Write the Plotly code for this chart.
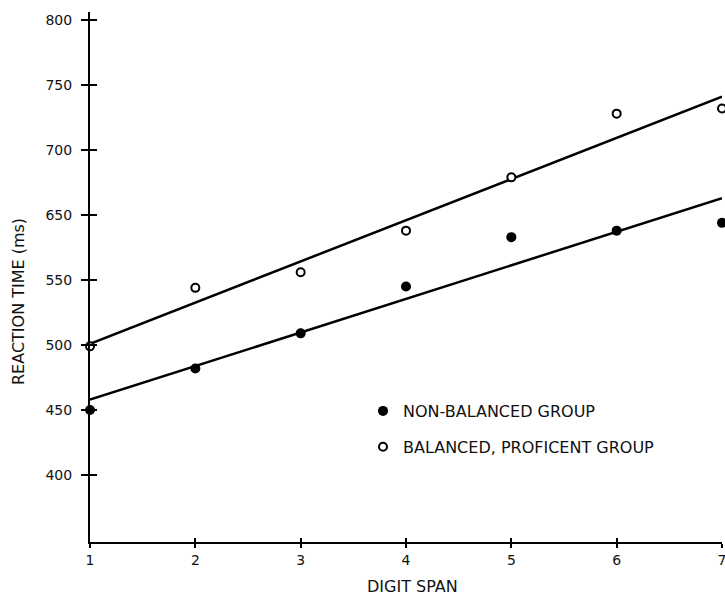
import plotly.graph_objects as go

# ---- data ----
digit_span = [1, 2, 3, 4, 5, 6, 7]
non_balanced = [450, 482, 509, 545, 583, 588, 594]
balanced = [499, 544, 556, 588, 629, 678, 682]

# fitted lines, values at digit span 1 and 7
fit_x = [1, 7]
fit_non_balanced = [458, 613]
fit_balanced = [501, 691]

# y tick positions and the labels printed beside them
ytick_vals = [400, 450, 500, 550, 600, 650, 700, 750]
ytick_text = ["400", "450", "500", "550", "650", "700", "750", "800"]
xtick_vals = [1, 2, 3, 4, 5, 6, 7]
xtick_text = ["1", "2", "3", "4", "5", "6", "7"]

FONT = "DejaVu Sans"
INK = "#111111"
YR = [348.5, 756.2]
XR = [1, 7]

W, H = 725, 596
ML, MR, MT, MB = 90, 3, 12, 54
PW = W - ML - MR
PH = H - MT - MB


def px(xp):  # page x -> paper
    return (xp - ML) / PW


def py(yp):  # page y -> paper
    return (H - MB - yp) / PH


fig = go.Figure()

fig.add_trace(go.Scatter(x=fit_x, y=fit_balanced, mode="lines",
                         line=dict(color="black", width=2.5),
                         showlegend=False, hoverinfo="skip", cliponaxis=False))
fig.add_trace(go.Scatter(x=fit_x, y=fit_non_balanced, mode="lines",
                         line=dict(color="black", width=2.5),
                         showlegend=False, hoverinfo="skip", cliponaxis=False))

fig.add_trace(go.Scatter(x=digit_span, y=non_balanced, mode="markers",
                         name="NON-BALANCED GROUP", legendgroup="a",
                         marker=dict(symbol="circle", size=10, color="black"),
                         cliponaxis=False))
fig.add_trace(go.Scatter(x=digit_span, y=balanced, mode="markers",
                         name="BALANCED, PROFICENT GROUP", legendgroup="b",
                         marker=dict(symbol="circle", size=8, color="white",
                                     line=dict(color="black", width=2)),
                         cliponaxis=False))

# dummy trace so the overlaid axes (inner half of crossing ticks) get drawn
fig.add_trace(go.Scatter(x=[], y=[], xaxis="x2", yaxis="y2", showlegend=False))

common = dict(showgrid=False, zeroline=False, tickcolor="black", tickwidth=1.5,
              automargin=False)

fig.update_layout(
    width=W, height=H,
    margin=dict(l=ML, r=MR, t=MT, b=MB, autoexpand=False),
    paper_bgcolor="white", plot_bgcolor="white",
    font=dict(family=FONT, size=14, color=INK),
    xaxis=dict(range=XR, tickvals=xtick_vals, ticktext=xtick_text,
               ticks="outside", ticklen=4, showline=True, linewidth=2, linecolor="black",
               tickfont=dict(size=14), ticklabelstandoff=0,
               ticklabeloverflow="allow", **common),
    yaxis=dict(range=YR, tickvals=ytick_vals, ticktext=ytick_text,
               ticks="outside", ticklen=7, showline=True, linewidth=2, linecolor="black",
               tickfont=dict(size=14), ticklabelstandoff=6, **common),
    xaxis2=dict(range=XR, overlaying="x", anchor="y2", side="bottom",
                tickvals=xtick_vals, ticks="inside", ticklen=4, showticklabels=False,
                showline=False, **common),
    yaxis2=dict(range=YR, overlaying="y", anchor="x2", side="left",
                tickvals=ytick_vals, ticks="inside", ticklen=7, showticklabels=False,
                showline=False, **common),
    legend=dict(x=px(363), y=py(394), xanchor="left", yanchor="top",
                bgcolor="rgba(0,0,0,0)", font=dict(size=16, color=INK),
                tracegroupgap=12, traceorder="grouped", itemwidth=30),
    annotations=[
        dict(text="REACTION TIME (ms)", textangle=-90, xref="paper", yref="paper",
             x=px(18), y=py(302), xanchor="center", yanchor="middle",
             showarrow=False, font=dict(size=16, color=INK)),
        dict(text="DIGIT SPAN", xref="paper", yref="paper",
             x=px(412), y=py(586), xanchor="center", yanchor="middle",
             showarrow=False, font=dict(size=16, color=INK)),
    ],
)

fig.write_html(
    "out.html",
    config={"displayModeBar": False},
    post_script=(
        "document.documentElement.style.margin='0';"
        "document.body.style.margin='0';"
        "document.body.style.overflow='hidden';"
    ),
)
